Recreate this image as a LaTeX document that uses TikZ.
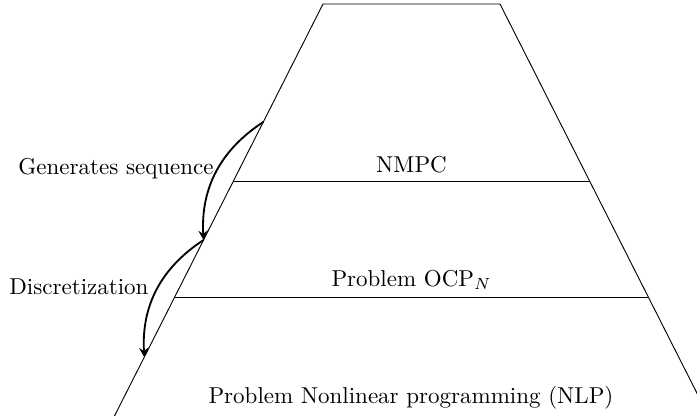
\documentclass[tikz,border=0pt]{standalone}
\usepackage{amsmath,amssymb}
\usetikzlibrary{arrows,positioning,calc}

\begin{document}
\begin{tikzpicture}[x = .435pt, y = -.435pt]
    \useasboundingbox (0,0) rectangle (697,416);
    \clip (0,0) rectangle (697,416);
    \coordinate (tl) at (323,4);
    \coordinate (tr) at (500,4);
    \coordinate (bl) at (107.4,430);
    \coordinate (br) at (715.6,430);
    \draw (bl) -- (tl) -- (tr) -- (br);
    % levels
    \coordinate (l1) at ($(tl)!.4155!(bl)$);
    \coordinate (r1) at ($(tr)!.4155!(br)$);
    \coordinate (l2) at ($(tl)!.690!(bl)$);
    \coordinate (r2) at ($(tr)!.690!(br)$);
    \draw (l1) -- (r1);
    \draw (l2) -- (r2);
    \node[above] (nmpc) at ($(l1)!.5!(r1)$) {NMPC};
    \node[above] (ocp) at ($(l2)!.5!(r2)$) {Problem OCP$_N$};
    \node (nlp) at (411,398) {Problem Nonlinear programming (NLP)};
    % arrows on the left side
    \coordinate (a) at ($(tl)!.277!(bl)$);
    \coordinate (b) at ($(tl)!.554!(bl)$);
    \coordinate (c) at ($(tl)!.829!(bl)$);
    \draw[->, >=stealth, thick] (a) to[bend right=30] node[pos=.47, left, inner sep=1.5pt] (gen) {Generates sequence} (b);
    \draw[->, >=stealth, thick] (b) to[bend right=30] node[pos=.47, left, inner sep=4pt] (disc) {Discretization} (c);
\end{tikzpicture}
\end{document}
